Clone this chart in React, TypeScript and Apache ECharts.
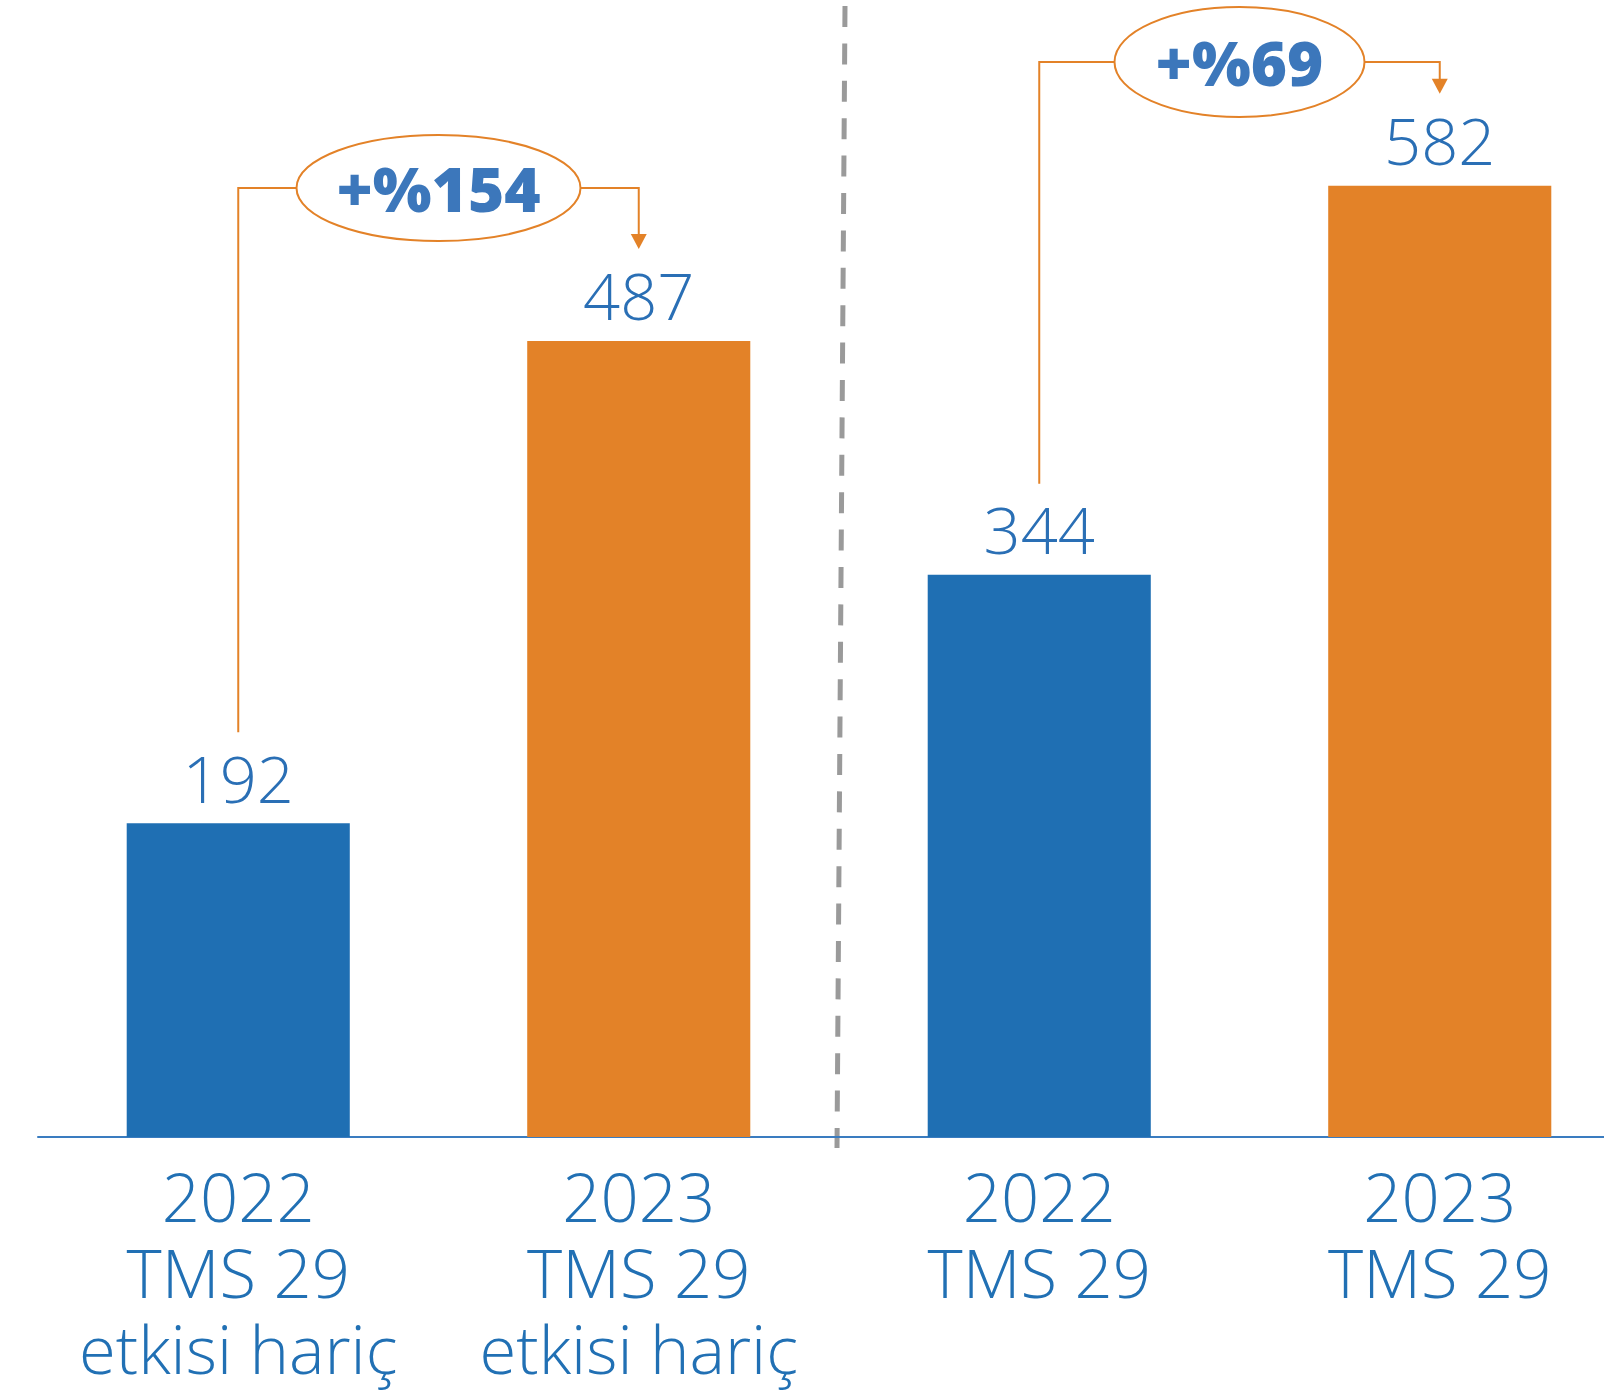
import React, { useEffect, useRef } from "react";
import * as echarts from "echarts";

const categories = [
  "2022\nTMS 29\netkisi hariç",
  "2023\nTMS 29\netkisi hariç",
  "2022\nTMS 29",
  "2023\nTMS 29",
];
const values = [192, 487, 344, 582];
const barColors = ["#1F6FB3", "#E38228", "#1F6FB3", "#E38228"];
const changeLabels = ["+%154", "+%69"];
const changePairs = [
  [0, 1],
  [2, 3],
];
// annotation styling (pixel offsets / sizes)
const bracketLineY = [188, 62];
const ellipseRx = [142, 125];
const ellipseRy = [53, 55];

const ORANGE = "#E38228";
const LABEL_BLUE = "#2A6FB5";

export default function App() {
  const ref = useRef<HTMLDivElement>(null);
  useEffect(() => {
    if (!ref.current) return;
    const chart = echarts.init(ref.current, undefined, { renderer: "svg" });
    chart.setOption({
      animation: false,
      grid: { left: 38, width: 1602, top: 1, bottom: 255, containLabel: false, outerBoundsMode: "none" },
      xAxis: {
        type: "category",
        data: categories,
        axisLine: { lineStyle: { color: "#3A7CC0", width: 2 } },
        axisTick: { show: false },
        axisLabel: {
          color: "#2170B4",
          fontFamily: "Open Sans",
          fontSize: 67,
          fontWeight: 300,
          lineHeight: 76,
          margin: 21,
          interval: 0,
          hideOverlap: false,
        },
      },
      yAxis: {
        type: "value",
        min: 0,
        max: 695,
        show: false,
      },
      series: [
        {
          type: "bar",
          barWidth: "55.7%",
          data: values.map((v, i) => ({ value: v, itemStyle: { color: barColors[i] } })),
          label: {
            show: true,
            position: "top",
            distance: 13,
            color: LABEL_BLUE,
            fontFamily: "Open Sans",
            fontSize: 65,
            fontWeight: 300,
          },
        },
      ],
    });

    const px = (i: number, v: number) =>
      chart.convertToPixel({ gridIndex: 0 }, [i, v]) as number[];

    const graphics: any[] = [];
    changePairs.forEach(([a, b], k) => {
      const pa = px(a, values[a]);
      const pb = px(b, values[b]);
      const cx = (pa[0] + pb[0]) / 2;
      const ly = bracketLineY[k];
      const rx = ellipseRx[k];
      const ry = ellipseRy[k];
      const tipY = pb[1] - 92;
      const srcBottom = pa[1] - 91;
      graphics.push({
        type: "polyline",
        shape: { points: [[pa[0], srcBottom], [pa[0], ly], [cx - rx, ly]] },
        style: { stroke: ORANGE, lineWidth: 2, fill: null },
      });
      graphics.push({
        type: "polyline",
        shape: { points: [[cx + rx, ly], [pb[0], ly], [pb[0], tipY - 14]] },
        style: { stroke: ORANGE, lineWidth: 2, fill: null },
      });
      graphics.push({
        type: "polygon",
        shape: { points: [[pb[0], tipY], [pb[0] - 8, tipY - 15], [pb[0] + 8, tipY - 15]] },
        style: { fill: ORANGE },
      });
      graphics.push({
        type: "ellipse",
        shape: { cx, cy: ly, rx, ry },
        style: { stroke: ORANGE, lineWidth: 2, fill: "#ffffff" },
      });
      graphics.push({
        type: "text",
        x: cx,
        y: ly,
        style: {
          text: changeLabels[k],
          fill: "#3C77BB",
          fontFamily: "Open Sans",
          fontSize: 62,
          fontWeight: 800,
          align: "center",
          verticalAlign: "middle",
        },
      });
    });
    // divider between groups
    const p1 = px(1, 0);
    const p2 = px(2, 0);
    const mid = (p1[0] + p2[0]) / 2;
    graphics.push({
      type: "line",
      shape: { x1: mid + 6, y1: 6, x2: mid - 2, y2: p1[1] + 11 },
      style: { stroke: "#9A9A9A", lineWidth: 5, lineDash: [21, 16.4] },
    });
    chart.setOption({ graphic: graphics });

    return () => chart.dispose();
  }, []);
  return (
    <div
      ref={ref}
      style={{ position: "absolute", left: 0, top: 0, width: 1604, height: 1392, background: "#fff" }}
    />
  );
}
